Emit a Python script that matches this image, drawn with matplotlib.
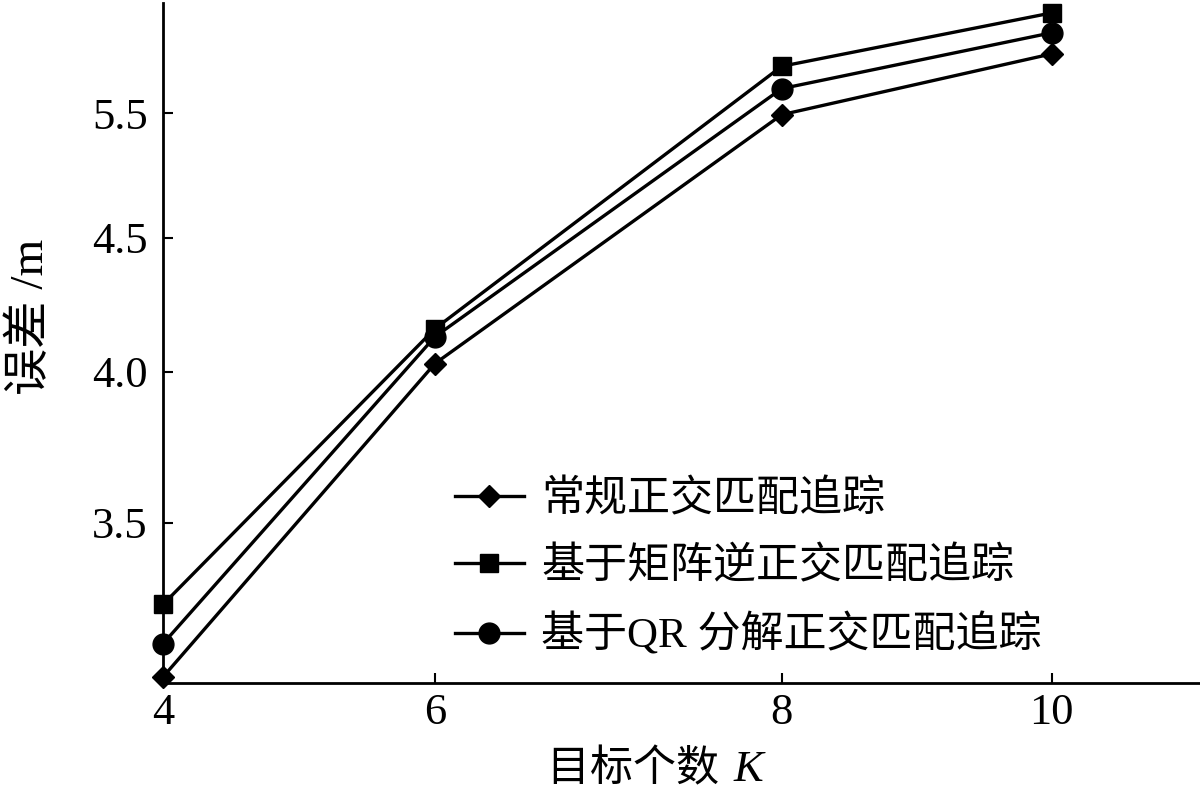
import matplotlib
matplotlib.use("Agg")
import matplotlib.pyplot as plt
import numpy as np

# data
K = [4, 6, 8, 10]
err_conv = [2.99, 4.03, 5.49, 5.98]     # 常规正交匹配追踪
err_inv = [3.23, 4.16, 5.88, 6.31]      # 基于矩阵逆正交匹配追踪
err_qr = [3.10, 4.13, 5.70, 6.15]       # 基于QR 分解正交匹配追踪
labels = ["常规正交匹配追踪", "基于矩阵逆正交匹配追踪", "基于QR 分解正交匹配追踪"]
xticks = [4, 6, 8, 10]
yticks = [3.5, 4.0, 4.5, 5.5]
ytick_labels = ["3.5", "4.0", "4.5", "5.5"]

# the original axes are not evenly spaced: tick value -> relative position
x_anchor = np.array([0.0, 272.0, 619.0, 889.0])
y_anchor = np.array([0.0, 151.0, 285.0, 409.0])

FONTS = ["Liberation Serif", "Noto Sans CJK SC"]


def piecewise(vals, pos):
    vals = np.asarray(vals, float)
    pos = np.asarray(pos, float)

    def fwd(x):
        x = np.asarray(x, float)
        shp = x.shape
        x = np.atleast_1d(x)
        out = np.interp(x, vals, pos)
        lo = x < vals[0]
        hi = x > vals[-1]
        out[lo] = pos[0] + (x[lo] - vals[0]) * (pos[1] - pos[0]) / (vals[1] - vals[0])
        out[hi] = pos[-1] + (x[hi] - vals[-1]) * (pos[-1] - pos[-2]) / (vals[-1] - vals[-2])
        return out.reshape(shp)

    def inv(p):
        p = np.asarray(p, float)
        shp = p.shape
        p = np.atleast_1d(p)
        out = np.interp(p, pos, vals)
        lo = p < pos[0]
        hi = p > pos[-1]
        out[lo] = vals[0] + (p[lo] - pos[0]) * (vals[1] - vals[0]) / (pos[1] - pos[0])
        out[hi] = vals[-1] + (p[hi] - pos[-1]) * (vals[-1] - vals[-2]) / (pos[-1] - pos[-2])
        return out.reshape(shp)

    return fwd, inv


plt.rcParams["font.family"] = FONTS

fig = plt.figure(figsize=(12, 7.95), dpi=100)
ax = fig.add_axes([163 / 1200, 112 / 795, 1037 / 1200, 680 / 795])

ax.set_xscale("function", functions=piecewise(xticks, x_anchor))
ax.set_yscale("function", functions=piecewise(yticks, y_anchor))

lw = 2.4
ax.plot(K, err_conv, color="black", lw=lw, marker="D", ms=11.5, label=labels[0], clip_on=False)
ax.plot(K, err_inv, color="black", lw=lw, marker="s", ms=13, label=labels[1], clip_on=False)
ax.plot(K, err_qr, color="black", lw=lw, marker="o", ms=15, label=labels[2], clip_on=False)

ax.set_xlim(4, 11.1)
ax.set_ylim(2.97, 6.39)
ax.set_xticks(xticks)
ax.set_xticklabels([str(k) for k in xticks])
ax.set_yticks(yticks)
ax.set_yticklabels(ytick_labels)
ax.minorticks_off()

for s in ["top", "right"]:
    ax.spines[s].set_visible(False)
for s in ["left", "bottom"]:
    ax.spines[s].set_linewidth(2.0)

ax.tick_params(axis="both", direction="in", length=7, width=1.5, labelsize=32)
ax.tick_params(axis="y", pad=11)
ax.tick_params(axis="x", pad=7)

ax.set_ylabel("误差 /m", fontsize=34)
ax.yaxis.set_label_coords(-0.106, 0.538)

fig.text(730 / 1200, 1 - 770 / 795, "目标个数 ", fontsize=31, ha="right", va="center")
fig.text(734 / 1200, 1 - 770 / 795, "K", fontsize=32, style="italic", ha="left", va="center",
         family="Liberation Serif")

ax.legend(loc="upper left", bbox_to_anchor=(455 / 1200, 1 - 480 / 795),
          bbox_transform=fig.transFigure, frameon=False, fontsize=31,
          handlelength=1.6, handletextpad=0.4, labelspacing=0.62,
          borderpad=0, borderaxespad=0)

fig.savefig("out.png", dpi=100)
